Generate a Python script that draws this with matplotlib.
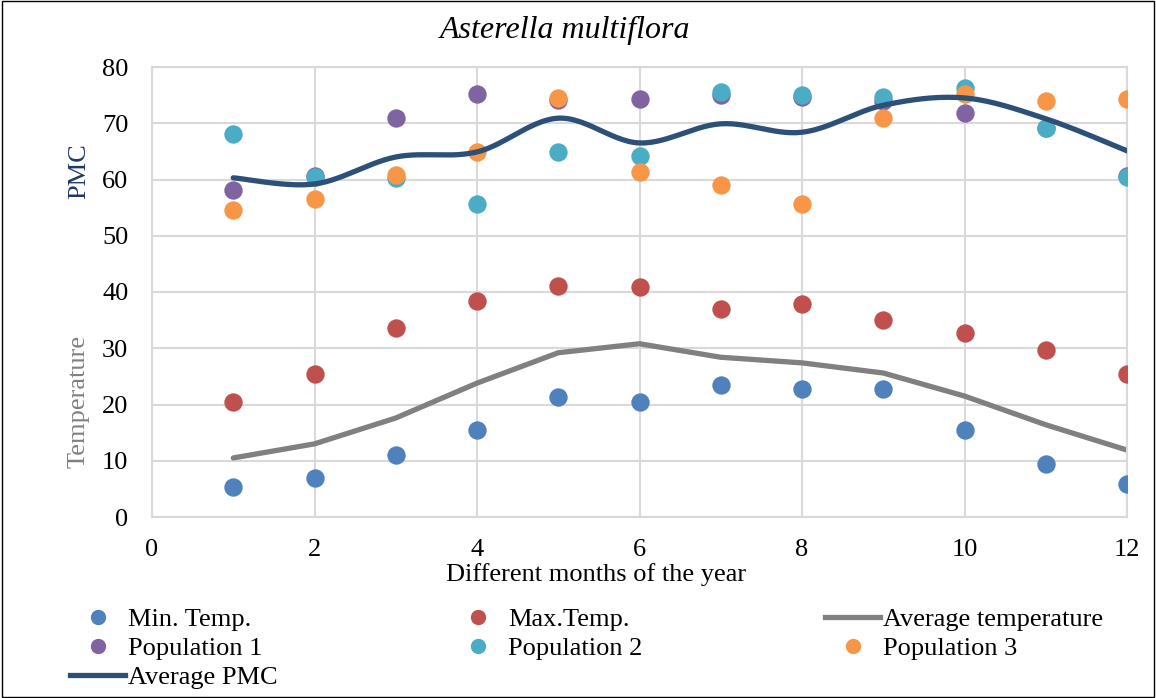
import numpy as np
import matplotlib.pyplot as plt
from matplotlib.lines import Line2D
from matplotlib.patches import Rectangle

plt.rcParams['font.family'] = ['Liberation Serif', 'DejaVu Serif']

months = [1, 2, 3, 4, 5, 6, 7, 8, 9, 10, 11, 12]
min_temp = [5.3, 6.9, 11.0, 15.5, 21.3, 20.4, 23.5, 22.8, 22.8, 15.5, 9.4, 5.9]
max_temp = [20.4, 25.4, 33.6, 38.4, 41.1, 40.9, 37.0, 37.9, 35.0, 32.7, 29.7, 25.4]
avg_temp = [10.5, 13.0, 17.6, 23.8, 29.2, 30.8, 28.4, 27.4, 25.6, 21.5, 16.4, 11.9]
pop1 = [58.1, 60.7, 70.9, 75.2, 74.1, 74.3, 75.0, 74.6, 74.0, 71.8, 69.2, 60.6]
pop2 = [68.1, 60.5, 60.3, 55.6, 64.9, 64.2, 75.6, 75.0, 74.7, 76.3, 69.2, 60.4]
pop3 = [54.6, 56.5, 60.8, 64.9, 74.5, 61.3, 59.0, 55.6, 70.9, 75.2, 74.0, 74.3]
avg_pmc = [60.3, 59.2, 64.0, 64.9, 70.9, 66.5, 69.9, 68.4, 73.2, 74.5, 70.8, 65.1]


def smooth(x, y, n=30):
    # Excel-style smoothed line (Catmull-Rom through the points)
    x = np.asarray(x, float)
    y = np.asarray(y, float)
    px = np.concatenate([[x[0]], x, [x[-1]]])
    py = np.concatenate([[y[0]], y, [y[-1]]])
    xs, ys = [], []
    t = np.linspace(0, 1, n)
    for i in range(1, len(px) - 2):
        p0, p1, p2, p3 = (np.array([px[j], py[j]]) for j in range(i - 1, i + 3))
        c1 = p1 + (p2 - p0) / 6
        c2 = p2 - (p3 - p1) / 6
        b = ((1 - t) ** 3)[:, None] * p1 + (3 * (1 - t) ** 2 * t)[:, None] * c1 \
            + (3 * (1 - t) * t ** 2)[:, None] * c2 + (t ** 3)[:, None] * p2
        xs.extend(b[:, 0])
        ys.extend(b[:, 1])
    return xs, ys


fig = plt.figure(figsize=(11.56, 6.98), dpi=100)
ax = fig.add_axes([152 / 1156, 1 - 517 / 698, 975 / 1156, 450 / 698])

c_min, c_max, c_gray = '#4f81bd', '#c0504d', '#808080'
c_p1, c_p2, c_p3, c_pmc = '#8064a2', '#4bacc6', '#f79646', '#2c5078'
s = 175
fs = 19

ax.scatter(months, min_temp, s=s, color=c_min, zorder=3, linewidths=0)
ax.scatter(months, max_temp, s=s, color=c_max, zorder=3, linewidths=0)
ax.plot(months, avg_temp, color=c_gray, lw=3.8, zorder=2, solid_capstyle='round')
ax.scatter(months, pop1, s=s, color=c_p1, zorder=3, linewidths=0)
ax.scatter(months, pop2, s=s, color=c_p2, zorder=3, linewidths=0)
ax.scatter(months, pop3, s=s, color=c_p3, zorder=3, linewidths=0)
sx, sy = smooth(months, avg_pmc)
ax.plot(sx, sy, color=c_pmc, lw=3.8, zorder=4, solid_capstyle='round')

ax.set_xlim(0, 12)
ax.set_ylim(0, 80)
ax.set_xticks(range(0, 13, 2))
ax.set_yticks(range(0, 81, 10))
ax.grid(True, color='#d9d9d9', lw=1.5)
ax.set_axisbelow(True)
for sp in ax.spines.values():
    sp.set_color('#d9d9d9')
    sp.set_linewidth(1.5)
ax.tick_params(length=0, labelsize=fs)
ax.tick_params(axis='x', pad=16)
ax.tick_params(axis='y', pad=17)

fig.text(565 / 1156, 1 - 30 / 698, 'Asterella multiflora', style='italic',
         fontsize=23, ha='center', va='center')
fig.text(596 / 1156, 1 - 575 / 698, 'Different months of the year',
         fontsize=fs, ha='center', va='center')
fig.text(79 / 1156, 1 - 171 / 698, 'PMC', rotation=90, fontsize=fs,
         color='#1f3864', ha='center', va='center')
fig.text(79 / 1156, 1 - 401 / 698, 'Temperature', rotation=90, fontsize=fs,
         color=c_gray, ha='center', va='center')


def mk(c):
    return Line2D([], [], marker='o', ls='none', color=c, markersize=10)


def ln(c):
    return Line2D([], [], color=c, lw=3.8)


cols = [
    (70, [mk(c_min), mk(c_p1), ln(c_pmc)], ['Min. Temp.', 'Population 1', 'Average PMC']),
    (450, [mk(c_max), mk(c_p2)], ['Max.Temp.', 'Population 2']),
    (825, [ln(c_gray), mk(c_p3)], ['Average temperature', 'Population 3']),
]
for x0, h, l in cols:
    fig.legend(h, l, loc='upper left', bbox_to_anchor=(x0 / 1156, 1 - 608 / 698),
               frameon=False, fontsize=fs, handlelength=2.1, handletextpad=0.1,
               labelspacing=0.2, borderpad=0, borderaxespad=0)

fig.add_artist(Rectangle((0.002, 0.002), 0.996, 0.996, transform=fig.transFigure,
                         fill=False, ec='black', lw=1))

fig.savefig('out.png', dpi=100)
